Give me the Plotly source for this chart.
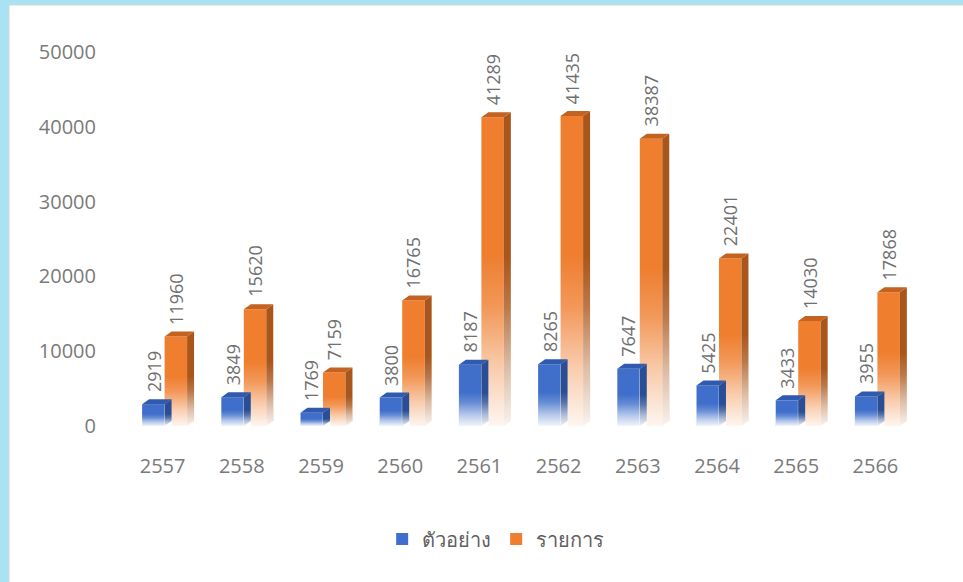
import plotly.graph_objects as go

years = ["2557", "2558", "2559", "2560", "2561", "2562", "2563", "2564", "2565", "2566"]
samples = [2919, 3849, 1769, 3800, 8187, 8265, 7647, 5425, 3433, 3955]
items = [11960, 15620, 7159, 16765, 41289, 41435, 38387, 22401, 14030, 17868]
series_names = ["ตัวอย่าง", "รายการ"]
y_ticks = [0, 10000, 20000, 30000, 40000, 50000]

W = 0.284      # bar front width (category units)
DX = 0.088     # 3D depth, x
DY = 670       # 3D depth, y
FADE = 0.55    # fraction of bar height that fades to white

front_cols = ["#3F6FCB", "#EF7E2F"]
side_cols = ["#2A4E95", "#A9561C"]
top_cols = ["#2F5AAE", "#C4621F"]
offsets = [-W, 0.0]
series = [samples, items]
xs = list(range(len(years)))

fig = go.Figure()

# front faces (real bars)
for k in (1, 0):
    fig.add_trace(go.Bar(
        x=xs, y=series[k], name=series_names[k], offset=offsets[k], width=W,
        marker=dict(color=front_cols[k], line=dict(width=0)),
        showlegend=True, legendrank=k + 1,
    ))

fade_scale = [[0, "rgba(255,255,255,0.93)"],
              [0.35, "rgba(255,255,255,0.6)"],
              [0.7, "rgba(255,255,255,0.2)"],
              [1, "rgba(255,255,255,0)"]]

# side/top faces, then the white fade at the base of every bar (orange first, blue on top)
for k in (1, 0):
    sx, sy, tx, ty = [], [], [], []
    for i, v in zip(xs, series[k]):
        xl = i + offsets[k]
        xr = xl + W
        sx += [xr, xr, xr + DX, xr + DX, xr, None]
        sy += [0, v, v + DY, DY, 0, None]
        tx += [xl, xl + DX, xr + DX, xr, xl, None]
        ty += [v, v + DY, v + DY, v, v, None]
    fig.add_trace(go.Scatter(x=sx, y=sy, mode="lines", fill="toself",
                             fillcolor=side_cols[k], line=dict(width=0),
                             showlegend=False, hoverinfo="skip"))
    fig.add_trace(go.Scatter(x=tx, y=ty, mode="lines", fill="toself",
                             fillcolor=top_cols[k], line=dict(width=0),
                             showlegend=False, hoverinfo="skip"))
    for i, v in zip(xs, series[k]):
        xl = i + offsets[k]
        xr = xl + W + DX
        h = v * FADE
        fig.add_trace(go.Scatter(
            x=[xl - 0.005, xr + 0.005, xr + 0.005, xl - 0.005, xl - 0.005],
            y=[0, 0, h + DY, h, 0],
            mode="lines", fill="toself", line=dict(width=0),
            fillgradient=dict(type="vertical", start=0, stop=h, colorscale=fade_scale),
            showlegend=False, hoverinfo="skip"))

# rotated value labels
for k in (0, 1):
    for i, v in zip(xs, series[k]):
        fig.add_annotation(x=i + offsets[k] + W / 2, y=v + DY, text=str(v),
                           textangle=-90, showarrow=False, yanchor="bottom",
                           xanchor="center", yshift=5,
                           font=dict(family="Open Sans", size=18, color="#6f6f6f"))

# page background panel
fig.add_shape(type="rect", xref="paper", yref="paper",
              x0=-0.1465, x1=1.08, y0=-0.45, y1=1.1257,
              fillcolor="white", line=dict(color="#d4d4d4", width=1), layer="below")

fig.update_layout(
    width=963, height=582,
    margin=dict(l=125, r=46, t=52, b=156),
    paper_bgcolor="#A9E3F3", plot_bgcolor="rgba(0,0,0,0)",
    barmode="overlay",
    xaxis=dict(range=[-0.5, len(years) - 0.5], tickvals=xs, ticktext=years,
               showgrid=False, zeroline=False, showline=False, ticks="",
               ticklabelstandoff=26, ticklabelshift=-2,
               tickfont=dict(family="Open Sans", size=20, color="#7a7a7a")),
    yaxis=dict(range=[0, 50000], tickvals=y_ticks, ticktext=[str(t) for t in y_ticks],
               showgrid=False, zeroline=False, showline=False, ticks="",
               ticklabelstandoff=28,
               tickfont=dict(family="Open Sans", size=20, color="#7a7a7a")),
    legend=dict(orientation="h", x=0.468, xanchor="center", y=-0.302, yanchor="middle",
                font=dict(family="Noto Sans", size=20, color="#606060"),
                traceorder="normal", bgcolor="rgba(0,0,0,0)"),
    showlegend=True,
)

fig.write_html("out.html")
